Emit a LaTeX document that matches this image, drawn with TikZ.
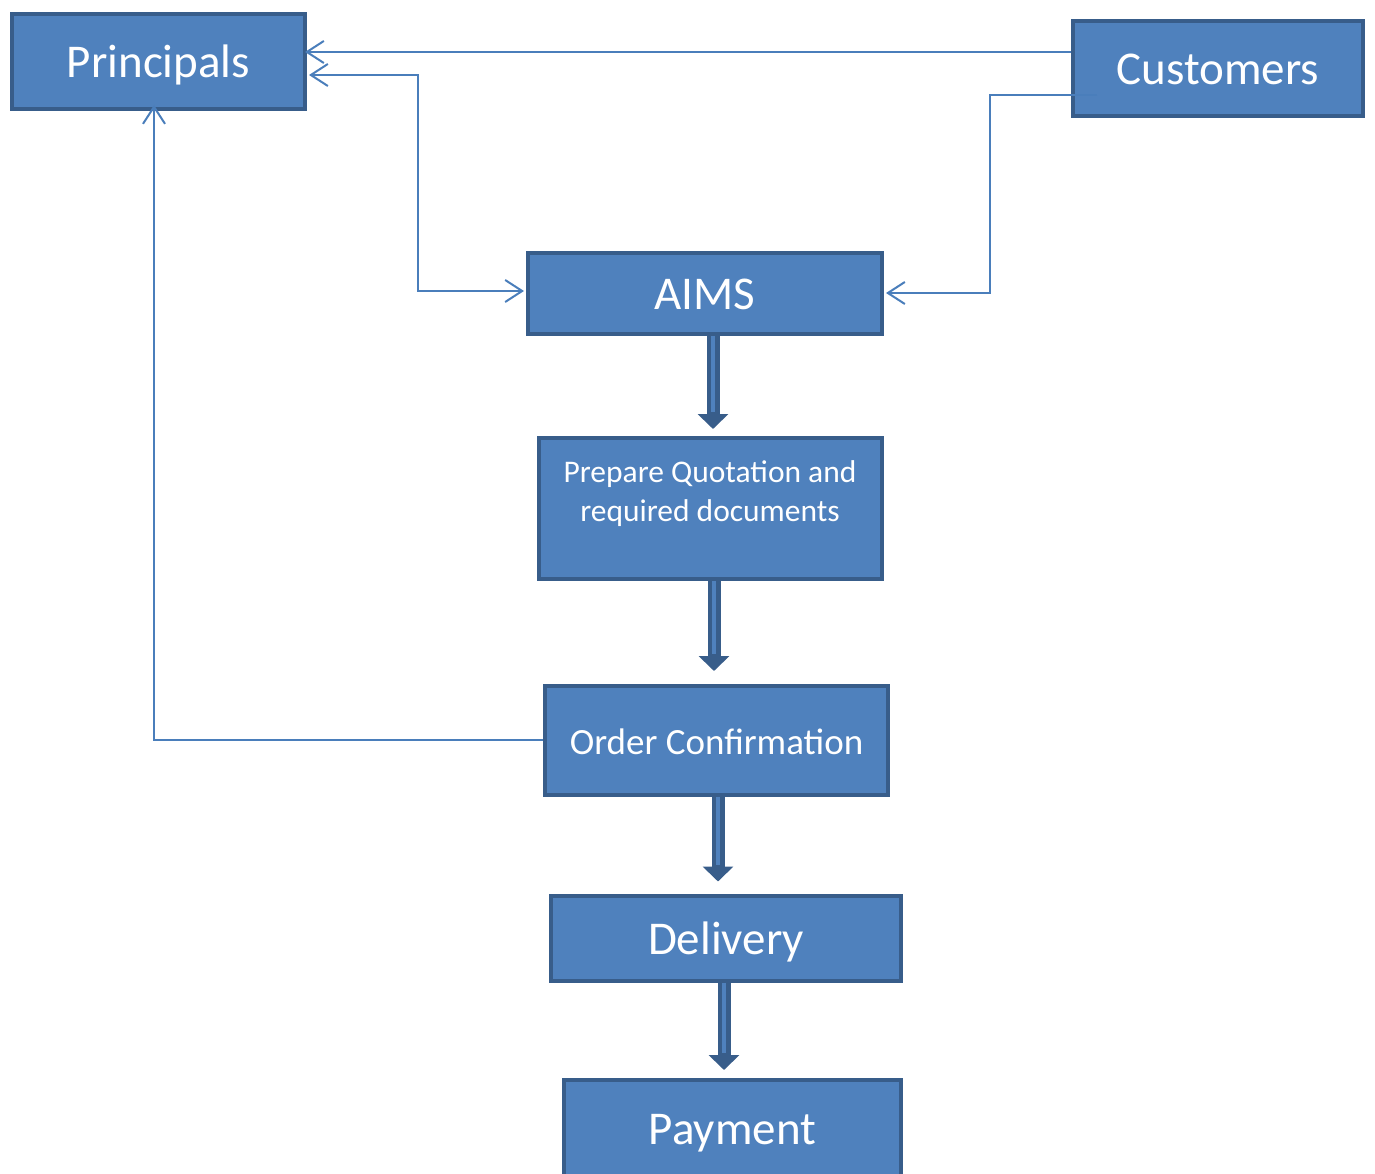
\documentclass[tikz,border=0pt]{standalone}
\usepackage{fontspec}
\setmainfont{Carlito}
\usetikzlibrary{arrows.meta}
\definecolor{boxfill}{HTML}{4F81BD}
\definecolor{boxline}{HTML}{385D8A}
\definecolor{conn}{HTML}{4A7EBB}
\tikzset{barb/.tip={Straight Barb[length=17pt,width=22pt,line width=2pt]},
  fat/.tip={Triangle[length=15pt,width=30pt]}}
\begin{document}
\begin{tikzpicture}[x=1pt,y=-1pt,
  box/.style={draw=boxline, fill=boxfill, line width=4pt, text=white, inner sep=0pt,
    font=\fontsize{47}{56}\selectfont, text height=37.6pt, text depth=5.6pt},
  boxtext/.style={text=white, inner sep=0pt, align=center},
  link/.style={draw=conn, line width=2pt, line join=miter, -barb},
  twolink/.style={draw=conn, line width=2pt, line join=miter, barb-barb},
  bigarrow/.style={draw=boxline, line width=13pt, -fat,
    postaction={draw=boxfill, line width=4pt, -, shorten >=17pt}}]
\useasboundingbox (0,0) rectangle (1375,1174);
% boxes
\node[box, minimum width=293pt, minimum height=95pt] (prin) at (158.5,61.5) {Principals};
\node[box, minimum width=290pt, minimum height=95pt] (cust) at (1218,69) {Customers};
\node[box, minimum width=354pt, minimum height=80pt] (aims) at (705,293.5) {AIMS};
\node[box, minimum width=343pt, minimum height=141pt] (prep) at (710.5,508.5) {};
\node[boxtext, font=\fontsize{31.5}{39}\selectfont] (preptext) at (710,494) {Prepare Quotation and\\required documents};
\node[box, minimum width=343pt, minimum height=109pt, font=\fontsize{37}{44}\selectfont,
  text height=27pt, text depth=0pt] (order) at (716.5,740.5) {Order Confirmation};
\node[box, minimum width=350pt, minimum height=85pt] (deliv) at (726,938) {Delivery};
\node[box, minimum width=337pt, minimum height=96pt] (pay) at (732.5,1128) {Payment};
% helper coordinates
\coordinate (y52) at (0,52);
\coordinate (y75) at (0,75);
\coordinate (y95) at (0,95);
\coordinate (y291) at (0,291);
\coordinate (y293) at (0,293);
\coordinate (y740) at (0,740);
\coordinate (xa) at (418,0);
\coordinate (xb) at (990,0);
\coordinate (xc) at (154,0);
\coordinate (cstart) at (1097,95);
\coordinate (x1) at (713,0);
\coordinate (x2) at (714,0);
\coordinate (x3) at (718,0);
\coordinate (x4) at (724,0);
% thin connectors
\draw[link] (cust.west |- y52) -- ([xshift=-2pt]prin.east |- y52);
\draw[twolink] ([xshift=2pt]prin.east |- y75) -- (xa |- y75) -- (xa |- y291) -- ([xshift=-2pt]aims.west |- y291);
\draw[link] (cstart) -- (xb |- y95) -- (xb |- y293) -- ([xshift=2pt]aims.east |- y293);
\draw[link] (order.west |- y740) -- (xc |- y740) -- ([yshift=6pt]xc |- prin.south);
% thick arrows
\draw[bigarrow] (aims.south -| x1) -- ([yshift=7pt]prep.north -| x1);
\draw[bigarrow] (prep.south -| x2) -- ([yshift=13pt]order.north -| x2);
\draw[bigarrow] (order.south -| x3) -- ([yshift=12pt]deliv.north -| x3);
\draw[bigarrow] (deliv.south -| x4) -- ([yshift=8pt]pay.north -| x4);
\end{tikzpicture}
\end{document}
